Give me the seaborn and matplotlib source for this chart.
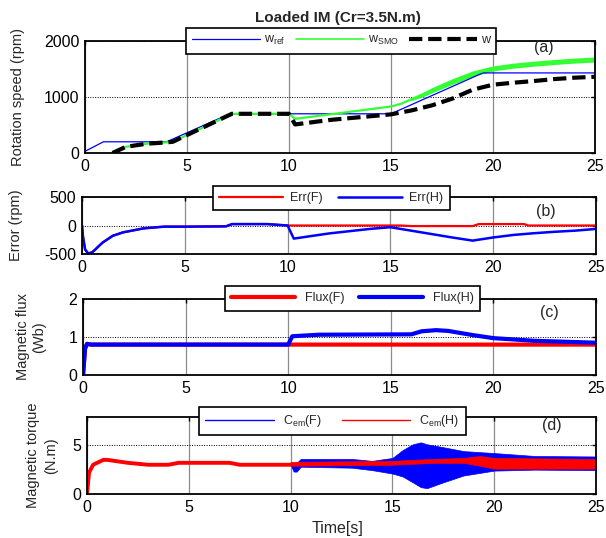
import numpy as np
import pandas as pd
import matplotlib
matplotlib.use("Agg")
import matplotlib.pyplot as plt
import seaborn as sns

# ---------------- data ----------------
# (a) rotation speed
t_ref = [0, 0.9, 4.0, 7.1, 15.0, 19.5, 25]
w_ref = [30, 200, 200, 700, 700, 1430, 1430]
t_w = [1.35, 2, 3, 4, 4.3, 7.2, 10, 10.3, 12, 15, 16, 17, 18, 19, 20, 21, 22, 23, 24, 25]
w_meas = [0, 110, 165, 190, 200, 700, 700, 510, 590, 690, 760, 850, 970, 1130, 1220, 1255,
          1285, 1320, 1345, 1360]
t_smo = [1.35, 2, 3, 4, 4.3, 7.2, 10, 10.3, 15, 15.5, 16, 17, 18, 19, 20, 21, 22, 23, 24, 25]
w_smo = [0, 110, 165, 190, 200, 700, 700, 610, 830, 880, 960, 1120, 1275, 1415, 1510, 1560,
         1595, 1625, 1650, 1670]
# oscillation envelope of w_SMO after t = 16 s
t_smo_band = [16, 16.5, 17, 18, 19, 20, 21, 22, 23, 24, 25]
smo_band_hi = [970, 1050, 1150, 1310, 1450, 1540, 1590, 1625, 1655, 1680, 1700]
smo_band_lo = [950, 1010, 1090, 1240, 1380, 1480, 1530, 1565, 1595, 1620, 1640]

# (b) speed error
t_errH = [0, 0.05, 0.15, 0.3, 0.5, 1, 1.5, 2, 3, 4, 5, 7, 7.3, 9, 10, 10.3, 12, 14, 15, 16,
          17, 18, 19, 20, 21, 22, 23, 24, 25]
errH = [0, -200, -420, -490, -470, -300, -180, -120, -50, -20, -20, -15, 25, 25, 0, -230,
        -140, -60, -30, -90, -150, -210, -265, -210, -165, -135, -110, -90, -60]
t_errF = [0, 0.05, 0.15, 0.3, 0.5, 1, 1.5, 2, 3, 4, 5, 7, 7.3, 9, 10, 15.5, 16, 19, 19.3,
          21.5, 21.7, 25]
errF = [0, -200, -420, -490, -470, -300, -180, -120, -50, -20, -20, -15, 25, 25, 0, 0, -10,
        -10, 25, 25, 0, 0]

# (c) magnetic flux
t_fluxH = [0, 0.1, 0.2, 0.4, 10, 10.2, 11.5, 16, 16.5, 17.2, 17.8, 19, 20, 22, 25]
fluxH = [0, 0.7, 0.82, 0.8, 0.8, 1.02, 1.06, 1.07, 1.15, 1.18, 1.16, 1.05, 0.97, 0.9, 0.85]
t_fluxF = [0, 0.1, 0.2, 0.4, 25]
fluxF = [0, 0.7, 0.82, 0.8, 0.8]

# (d) electromagnetic torque
t_cem = [0, 0.1, 0.3, 0.8, 1.0, 2, 3, 4, 4.5, 7, 7.5, 10]
cem = [0, 2.2, 3.0, 3.5, 3.5, 3.2, 3.0, 3.0, 3.2, 3.2, 3.0, 3.0]
t_bandF = [10, 10.15, 10.3, 10.5, 13, 14, 15, 15.5, 16, 16.4, 16.7, 17.5, 18.5, 20, 22, 25]
bandF_hi = [3.1, 3.2, 3.2, 3.6, 3.6, 3.4, 3.7, 4.5, 5.1, 5.3, 5.1, 4.8, 4.4, 4.2, 3.9, 3.85]
bandF_lo = [3.0, 2.3, 2.3, 2.8, 2.7, 2.45, 2.1, 1.8, 1.2, 0.7, 0.6, 1.2, 1.9, 2.4, 2.5, 2.45]
t_bandH = [10, 15, 17, 18.5, 19.3, 20, 25]
bandH_hi = [3.3, 3.4, 3.6, 3.7, 3.9, 3.7, 3.6]
bandH_lo = [2.9, 3.0, 3.2, 3.2, 2.9, 2.6, 2.6]

x_ticks = [0, 5, 10, 15, 20, 25]

# ---------------- style ----------------
sns.set_style("white")
plt.rcParams['font.family'] = ['Liberation Sans', 'DejaVu Sans']
plt.rcParams['axes.unicode_minus'] = False
plt.rcParams['mathtext.fontset'] = 'custom'
plt.rcParams['mathtext.rm'] = 'Liberation Sans'
plt.rcParams['mathtext.it'] = 'Liberation Sans:italic'
plt.rcParams['mathtext.bf'] = 'Liberation Sans:bold'
plt.rcParams['mathtext.default'] = 'rm'

BLUE = '#0000FF'
RED = '#FF0000'
GREEN = '#33FF33'

W, H = 606, 538
fig = plt.figure(figsize=(W / 100, H / 100), dpi=100)


def add_ax(L, R, T, B):
    return fig.add_axes([L / W, 1 - B / H, (R - L) / W, (B - T) / H])


def style_ax(ax, ylim, yticks):
    ax.set_xlim(0, 25)
    ax.set_ylim(*ylim)
    ax.set_xticks(x_ticks)
    ax.set_yticks(yticks)
    ax.tick_params(direction='in', top=True, right=True, length=3, width=1,
                   labelsize=11.5, pad=4, colors='black')
    ax.xaxis.grid(True, color='#8c8c8c', lw=0.9, ls='-')
    ax.yaxis.grid(True, color='black', lw=0.7, ls=(0, (1, 1.5)))
    ax.set_axisbelow(True)
    for s in ax.spines.values():
        s.set_visible(True)
        s.set_color('black')
        s.set_linewidth(1.3)
    ax.set_xlabel('')


def add_legend(ax, x, top, handlelength, ncol=2, colsp=1.0, tpad=0.5):
    leg = ax.legend(loc='upper center', bbox_to_anchor=(x, top), ncol=ncol,
                    fontsize=9, frameon=True, fancybox=False, framealpha=1,
                    edgecolor='black', borderaxespad=0, handlelength=handlelength,
                    handletextpad=tpad, columnspacing=colsp, borderpad=0.5)
    leg.get_frame().set_linewidth(1.2)
    leg.set_zorder(10)
    return leg


# ---------------- (a) ----------------
axa = add_ax(85, 595, 41, 153)
sns.lineplot(x=t_ref, y=w_ref, ax=axa, color=BLUE, lw=0.9, label=r'w$_{ref}$',
             estimator=None, sort=False)
sns.lineplot(x=t_smo, y=w_smo, ax=axa, color=GREEN, lw=1.6, label=r'w$_{SMO}$',
             estimator=None, sort=False)
axa.fill_between(t_smo_band, smo_band_lo, smo_band_hi, color=GREEN, lw=1.2)
sns.lineplot(x=t_w, y=w_meas, ax=axa, color='black', lw=3, linestyle=(0, (3.2, 1.4)),
             label='w', estimator=None, sort=False)
style_ax(axa, (0, 2000), [0, 1000, 2000])
axa.set_ylabel('Rotation speed (rpm)', fontsize=10.5)
axa.yaxis.set_label_coords(-0.118, 0.5)
leg = add_legend(axa, 0.502, 1.116, 5.4, ncol=3, colsp=0.9, tpad=0.3)
leg.get_lines()[1].set_linewidth(1.2)
axa.text(0.9, 0.942, '(a)', transform=axa.transAxes, ha='center', va='center', fontsize=11.5)
fig.text(338 / W, 1 - 17.7 / H, 'Loaded IM (Cr=3.5N.m)', ha='center', va='center',
         fontsize=11, fontweight='bold')

# ---------------- (b) ----------------
axb = add_ax(82, 596, 197, 254)
sns.lineplot(x=t_errF, y=errF, ax=axb, color=RED, lw=1.6, label='Err(F)',
             estimator=None, sort=False)
sns.lineplot(x=t_errH, y=errH, ax=axb, color=BLUE, lw=1.8, label='Err(H)',
             estimator=None, sort=False)
style_ax(axb, (-500, 500), [-500, 0, 500])
axb.set_ylabel('Error (rpm)', fontsize=10.5)
axb.yaxis.set_label_coords(-0.115, 0.5)
add_legend(axb, 0.485, 1.193, 5.1, colsp=1.2, tpad=0.6)
axb.text(0.903, 0.754, '(b)', transform=axb.transAxes, ha='center', va='center', fontsize=11.5)

# ---------------- (c) ----------------
axc = add_ax(83, 596, 299, 375)
sns.lineplot(x=t_fluxF, y=fluxF, ax=axc, color=RED, lw=3, label='Flux(F)',
             estimator=None, sort=False)
sns.lineplot(x=t_fluxH, y=fluxH, ax=axc, color=BLUE, lw=3, label='Flux(H)',
             estimator=None, sort=False)
style_ax(axc, (0, 2), [0, 1, 2])
axc.set_ylabel('Magnetic flux\n(Wb)', fontsize=10.5, linespacing=1.2)
axc.yaxis.set_label_coords(-0.072, 0.5)
add_legend(axc, 0.525, 1.171, 5.1, colsp=1.2, tpad=0.8)
axc.text(0.909, 0.816, '(c)', transform=axc.transAxes, ha='center', va='center', fontsize=11.5)

# ---------------- (d) ----------------
axd = add_ax(87, 596, 417, 494)
sns.lineplot(x=t_cem, y=cem, ax=axd, color=BLUE, lw=1.0, label=r'C$_{em}$(F)',
             estimator=None, sort=False)
axd.fill_between(t_bandF, bandF_lo, bandF_hi, color=BLUE, lw=0.5)
sns.lineplot(x=t_cem, y=cem, ax=axd, color=RED, lw=2.8, label=r'C$_{em}$(H)',
             estimator=None, sort=False)
axd.fill_between(t_bandH, bandH_lo, bandH_hi, color=RED, lw=0.5)
style_ax(axd, (0, 7.9), [0, 5])
axd.set_ylabel('Magnetic torque\n(N.m)', fontsize=10.5, linespacing=1.35)
axd.yaxis.set_label_coords(-0.057, 0.5)
legd = add_legend(axd, 0.482, 1.13, 5.5, colsp=1.6, tpad=0.7)
for ln in legd.get_lines():
    ln.set_linewidth(1.0)
axd.text(0.914, 0.896, '(d)', transform=axd.transAxes, ha='center', va='center', fontsize=11.5)
fig.text(338 / W, 1 - 528 / H, 'Time[s]', ha='center', va='center', fontsize=11.5)

fig.savefig('out.png', dpi=100)
